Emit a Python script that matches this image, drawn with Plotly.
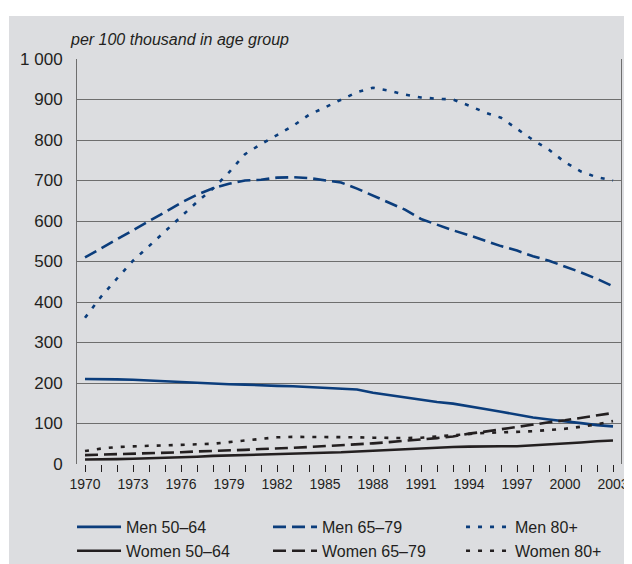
import plotly.graph_objects as go

years = list(range(1970, 2004))

men_50_64 = [210, 210, 209, 208, 206, 204, 203, 201, 199, 197, 196, 194, 193, 192, 190, 189, 187,
             184, 176, 170, 164, 158, 153, 149, 143, 136, 129, 122, 115, 110, 106, 101, 96, 93]
men_65_79 = [510, 532, 555, 578, 600, 622, 645, 665, 681, 692, 700, 702, 707, 708, 706, 700, 695,
             680, 662, 645, 628, 605, 590, 577, 565, 552, 538, 527, 513, 502, 488, 473, 457, 439]
men_80 = [361, 413, 458, 502, 538, 575, 612, 647, 680, 720, 765, 790, 812, 835, 862, 880, 900,
          918, 929, 922, 912, 905, 902, 900, 885, 868, 855, 828, 800, 776, 745, 722, 708, 700]
women_50_64 = [11, 11, 12, 13, 14, 15, 17, 18, 20, 21, 22, 23, 24, 25, 26, 27, 29,
               31, 33, 35, 37, 39, 41, 42, 43, 44, 44, 44, 46, 48, 50, 53, 56, 58]
women_65_79 = [22, 23, 24, 25, 26, 28, 29, 31, 32, 34, 35, 37, 38, 40, 42, 44, 46,
               48, 51, 54, 57, 60, 64, 68, 75, 80, 86, 92, 98, 103, 108, 114, 120, 126]
women_80 = [32, 38, 42, 44, 45, 46, 47, 48, 50, 54, 58, 62, 66, 67, 67, 66, 66,
            66, 65, 64, 64, 65, 68, 72, 75, 77, 78, 79, 81, 84, 87, 92, 98, 106]

y_ticks = [0, 100, 200, 300, 400, 500, 600, 700, 800, 900, 1000]
y_labels = ['0', '100', '200', '300', '400', '500', '600', '700', '800', '900', '1 000']

BLUE = '#0b3d7c'
BLACK = '#231f20'
FONT = 'Liberation Sans, Arial, sans-serif'

DASHED = '13px,6px'
DOTTED = '4px,8px'

# one legend per column: 50-64, 65-79, 80+
series = [
    ('Men 50–64', men_50_64, BLUE, 'solid', 'legend'),
    ('Men 65–79', men_65_79, BLUE, DASHED, 'legend2'),
    ('Men 80+', men_80, BLUE, DOTTED, 'legend3'),
    ('Women 50–64', women_50_64, BLACK, 'solid', 'legend'),
    ('Women 65–79', women_65_79, BLACK, DASHED, 'legend2'),
    ('Women 80+', women_80, BLACK, DOTTED, 'legend3'),
]

fig = go.Figure()
for name, values, color, dash, leg in series:
    fig.add_trace(go.Scatter(x=years, y=values, name=name, mode='lines', legend=leg,
                             line=dict(color=color, width=2.6, dash=dash)))

# grey panel behind the chart
fig.add_shape(type='rect', xref='paper', yref='paper', x0=-0.125, x1=1.1, y0=-0.4, y1=1.106,
              fillcolor='#dcdde0', line_width=0, layer='below')

fig.add_annotation(text='<b>(3 year moving averages)</b>', xref='paper', yref='paper',
                   x=-0.076, y=1.148, xanchor='left', yanchor='middle', showarrow=False,
                   font=dict(size=17, color=BLACK, family=FONT))
fig.add_annotation(text='<i>per 100 thousand in age group</i>', xref='paper', yref='paper',
                   x=-0.017, y=1.047, xanchor='left', yanchor='middle', showarrow=False,
                   font=dict(size=16, color=BLACK, family=FONT))

fig.update_xaxes(range=[1969.5, 2003.5], tickmode='linear', tick0=1970, dtick=3,
                 ticks='outside', ticklen=7, tickcolor=BLACK, tickwidth=1,
                 minor=dict(ticks='outside', dtick=1, tick0=1970, ticklen=7, tickcolor=BLACK),
                 showgrid=False, zeroline=False, showline=False, automargin=False,
                 tickfont=dict(size=14, color=BLACK, family=FONT))
fig.update_yaxes(range=[0, 1000], tickvals=y_ticks, ticktext=y_labels,
                 showgrid=True, gridcolor='#6e6e6e', gridwidth=1, zeroline=False,
                 showline=True, linecolor='#6e6e6e', linewidth=1, mirror=True,
                 ticks='', ticklabelstandoff=10, automargin=False,
                 tickfont=dict(size=17, color=BLACK, family=FONT))

legend_style = dict(orientation='v', xref='container', yref='container', y=0.1099,
                    xanchor='left', yanchor='top', itemwidth=44, tracegroupgap=0,
                    bgcolor='rgba(0,0,0,0)', font=dict(size=16, color=BLACK, family=FONT))

fig.update_layout(width=632, height=564,
                  margin=dict(l=69, r=19, t=51, b=108, autoexpand=False),
                  paper_bgcolor='white', plot_bgcolor='white',
                  font=dict(family=FONT, color=BLACK),
                  legend=dict(legend_style, x=0.1013),
                  legend2=dict(legend_style, x=0.4114),
                  legend3=dict(legend_style, x=0.7168))

fig.write_html("out.html")
